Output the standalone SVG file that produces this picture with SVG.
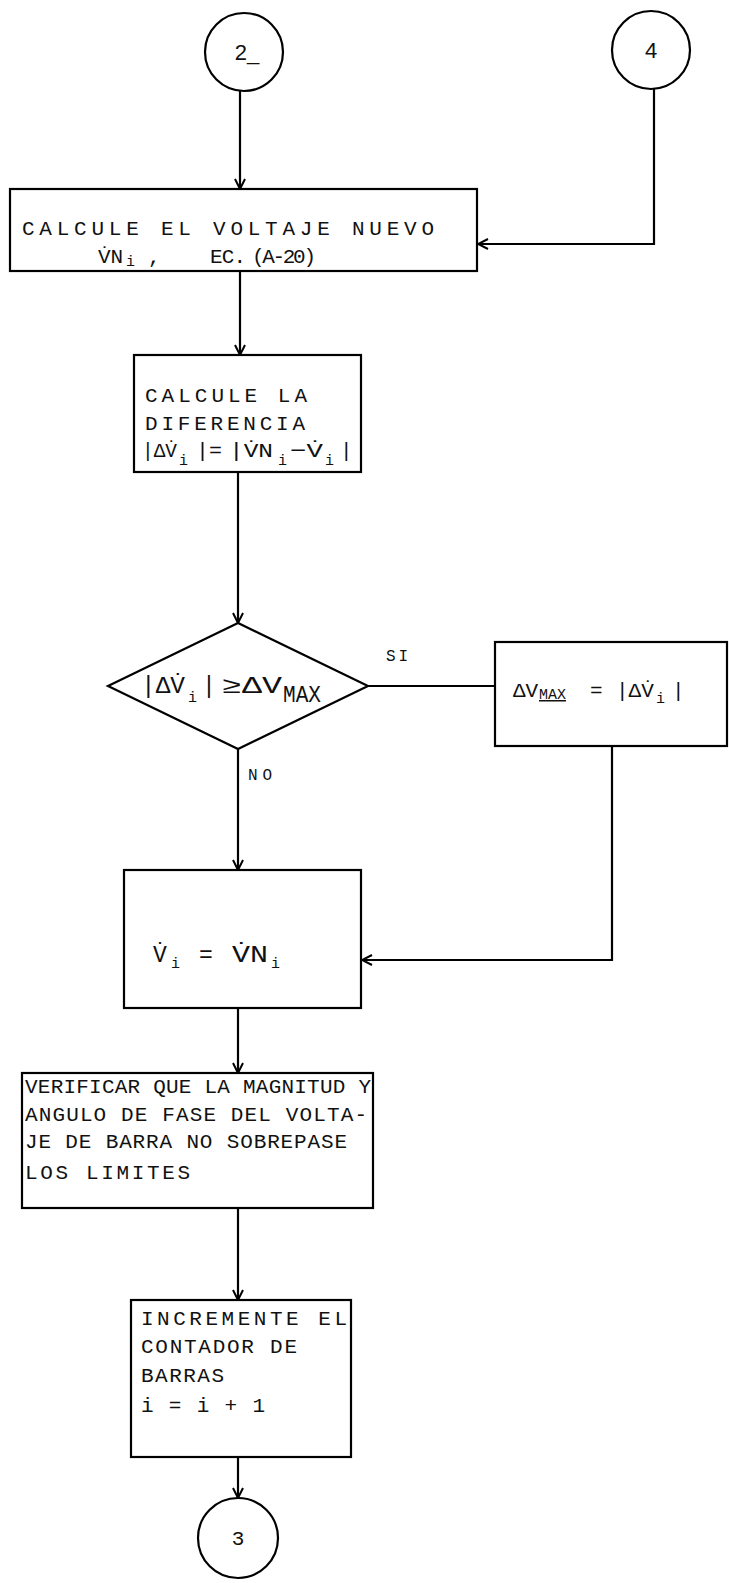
<svg xmlns="http://www.w3.org/2000/svg" width="729" height="1583" viewBox="0 0 729 1583">
<style>
.n{fill:none;stroke:#000;stroke-width:2.2}
.c{fill:none;stroke:#000;stroke-width:2.2}
.t{font-family:"Liberation Mono","DejaVu Sans Mono",monospace;font-size:21px;fill:#111}
.f{font-family:"Liberation Mono","DejaVu Sans Mono",monospace;font-size:23px;fill:#111}
.s{font-family:"Liberation Mono","DejaVu Sans Mono",monospace;font-size:15px;fill:#111}
.h{font-family:"Liberation Sans","DejaVu Sans",sans-serif;font-size:22px;fill:#111}
.l{font-family:"Liberation Mono","DejaVu Sans Mono",monospace;font-size:16px;fill:#111}
</style>
<defs>
<marker id="a" viewBox="0 0 12 12" refX="11" refY="6" markerWidth="12" markerHeight="12" markerUnits="userSpaceOnUse" orient="auto">
<path d="M1,1 L11,6 L1,11" fill="none" stroke="#000" stroke-width="2"/>
</marker>
</defs>
<rect width="729" height="1583" fill="#fff"/>
<g id="connectors">
<line class="c" x1="240" y1="91" x2="240" y2="189" marker-end="url(#a)"/>
<path class="c" d="M654,89 V244 H478" marker-end="url(#a)"/>
<line class="c" x1="240" y1="271" x2="240" y2="355" marker-end="url(#a)"/>
<line class="c" x1="238" y1="472" x2="238" y2="623" marker-end="url(#a)"/>
<line class="c" x1="368" y1="686" x2="495" y2="686"/>
<path class="c" d="M612,746 V960 H362" marker-end="url(#a)"/>
<line class="c" x1="238" y1="749" x2="238" y2="870" marker-end="url(#a)"/>
<line class="c" x1="238" y1="1008" x2="238" y2="1073" marker-end="url(#a)"/>
<line class="c" x1="238" y1="1208" x2="238" y2="1300" marker-end="url(#a)"/>
<line class="c" x1="238" y1="1457" x2="238" y2="1498" marker-end="url(#a)"/>
<text class="l" x="386" y="661" textLength="22" lengthAdjust="spacing">SI</text>
<text class="l" x="248" y="780" textLength="24" lengthAdjust="spacing">NO</text>
</g>
<g id="start2">
<circle class="n" cx="244" cy="52" r="39"/>
<text class="h" x="247" y="60" text-anchor="middle">2_</text>
</g>
<g id="start4">
<circle class="n" cx="651" cy="50" r="39"/>
<text class="h" x="651" y="58" text-anchor="middle">4</text>
</g>
<g id="calc-voltage">
<rect class="n" x="10" y="189" width="467" height="82"/>
<text class="t" x="22" y="235" textLength="412" lengthAdjust="spacing">CALCULE EL VOLTAJE NUEVO</text>
<text class="t" x="98" y="263">V̇N</text>
<text class="s" x="126" y="266">i</text>
<text class="t" x="148" y="263">,</text>
<text class="t" x="210" y="263" textLength="36" lengthAdjust="spacing">EC.</text>
<text class="t" x="252" y="263" font-size="18" textLength="64" lengthAdjust="spacing">(A-20)</text>
</g>
<g id="calc-diff">
<rect class="n" x="134" y="355" width="227" height="117"/>
<text class="t" x="145" y="402" textLength="162" lengthAdjust="spacing">CALCULE LA</text>
<text class="t" x="145" y="430" textLength="160" lengthAdjust="spacing">DIFERENCIA</text>
<text class="t" x="142" y="457" textLength="35" lengthAdjust="spacingAndGlyphs">|ΔV̇</text>
<text class="s" x="179" y="465">i</text>
<text class="t" x="196" y="457" textLength="26" lengthAdjust="spacingAndGlyphs">|=</text>
<text class="t" x="229" y="457" textLength="44" lengthAdjust="spacingAndGlyphs">|V̇N</text>
<text class="s" x="278" y="465">i</text>
<text class="t" x="290" y="457" textLength="33" lengthAdjust="spacingAndGlyphs">−V̇</text>
<text class="s" x="325" y="465">i</text>
<text class="t" x="340" y="457">|</text>
</g>
<g id="decision">
<polygon class="n" points="238,623 108,686 238,749 368,686"/>
<text class="f" x="141" y="693" textLength="44" lengthAdjust="spacingAndGlyphs">|ΔV̇</text>
<text class="s" x="188" y="702">i</text>
<text class="f" x="202" y="693">|</text>
<text class="f" x="222" y="693" textLength="60" lengthAdjust="spacingAndGlyphs">≥ΔV</text>
<text class="f" x="283" y="702" font-size="19" textLength="38" lengthAdjust="spacingAndGlyphs">MAX</text>
</g>
<g id="set-max">
<rect class="n" x="495" y="642" width="232" height="104"/>
<text class="t" x="513" y="697">ΔV</text>
<text class="s" x="539" y="699" text-decoration="underline">MAX</text>
<text class="t" x="590" y="697">=</text>
<text class="t" x="616" y="697">|ΔV̇</text>
<text class="s" x="656" y="703">i</text>
<text class="t" x="672" y="697">|</text>
</g>
<g id="assign">
<rect class="n" x="124" y="870" width="237" height="138"/>
<text class="f" x="153" y="962">V̇</text>
<text class="s" x="171" y="968">i</text>
<text class="f" x="199" y="962">=</text>
<text class="f" x="232" y="962" textLength="36" lengthAdjust="spacingAndGlyphs">V̇N</text>
<text class="s" x="271" y="968">i</text>
</g>
<g id="verify">
<rect class="n" x="22" y="1073" width="351" height="135"/>
<text class="t" x="25" y="1093" textLength="346" lengthAdjust="spacing">VERIFICAR QUE LA MAGNITUD Y</text>
<text class="t" x="25" y="1121" textLength="342" lengthAdjust="spacing">ANGULO DE FASE DEL VOLTA-</text>
<text class="t" x="25" y="1148" textLength="322" lengthAdjust="spacing">JE DE BARRA NO SOBREPASE</text>
<text class="t" x="25" y="1179" textLength="165" lengthAdjust="spacing">LOS LIMITES</text>
</g>
<g id="increment">
<rect class="n" x="131" y="1300" width="220" height="157"/>
<text class="t" x="141" y="1325" textLength="206" lengthAdjust="spacing">INCREMENTE EL</text>
<text class="t" x="141" y="1353" textLength="156" lengthAdjust="spacing">CONTADOR DE</text>
<text class="t" x="141" y="1382" textLength="83" lengthAdjust="spacing">BARRAS</text>
<text class="t" x="141" y="1412" textLength="124" lengthAdjust="spacing">i = i + 1</text>
</g>
<g id="end3">
<circle class="n" cx="238" cy="1538" r="40"/>
<text class="t" x="238" y="1545" text-anchor="middle" font-size="16">3</text>
</g>
</svg>
